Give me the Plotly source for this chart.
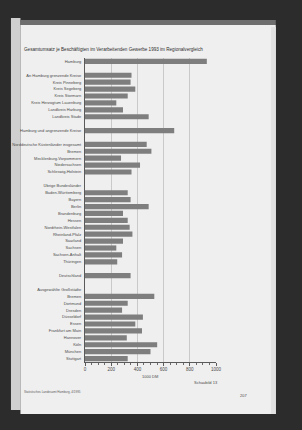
import plotly.graph_objects as go

title = "Gesamtumsatz je Beschäftigten im Verarbeitenden Gewerbe 1993 im Regionalvergleich"

labels = [
    "Hamburg", "",
    "An Hamburg grenzende Kreise", "Kreis Pinneberg", "Kreis Segeberg", "Kreis Stormarn",
    "Kreis Herzogtum Lauenburg", "Landkreis Harburg", "Landkreis Stade", "",
    "Hamburg und angrenzende Kreise", "",
    "Norddeutsche Küstenländer insgesamt", "Bremen", "Mecklenburg-Vorpommern",
    "Niedersachsen", "Schleswig-Holstein", "",
    "Übrige Bundesländer", "Baden-Württemberg", "Bayern", "Berlin", "Brandenburg",
    "Hessen", "Nordrhein-Westfalen", "Rheinland-Pfalz", "Saarland", "Sachsen",
    "Sachsen-Anhalt", "Thüringen", "",
    "Deutschland", "",
    "Ausgewählte Großstädte", "Bremen", "Dortmund", "Dresden", "Düsseldorf", "Essen",
    "Frankfurt am Main", "Hannover", "Köln", "München", "Stuttgart",
]

values = [
    930, None,
    355, 348, 384, 326, 239, 290, 486, None,
    681, None,
    471, 507, 275, 420, 355, None,
    None, 326, 348, 486, 290, 326, 341, 362, 290, 239, 283, 246, None,
    348, None,
    None, 529, 326, 283, 442, 384, 435, 319, 551, 500, 326,
]

x_ticks = [0, 200, 400, 600, 800, 1000]
x_title = "1000 DM"
figure_label = "Schaubild 13"
page_number = "207"
source_note = "Statistisches Landesamt Hamburg, 4/1995"

W, H = 302, 430
L, R, T, B = 78, 216, 58, 362  # plot area in pixels


def px(x):
    return (x - L) / (R - L)


def py(y):
    return (B - y) / (B - T)


pos = list(range(len(labels)))

fig = go.Figure(
    go.Bar(
        x=values,
        y=pos,
        orientation="h",
        marker=dict(color="#7e7e7e", line=dict(width=0)),
        width=0.75,
        hoverinfo="x",
    )
)

font = "Liberation Sans, Arial, sans-serif"

fig.update_layout(
    width=W,
    height=H,
    margin=dict(l=L, r=W - R, t=T, b=H - B, pad=0),
    paper_bgcolor="#2c2c2c",
    plot_bgcolor="rgba(0,0,0,0)",
    showlegend=False,
    font=dict(family=font, color="#4a4a4a", size=4),
    xaxis=dict(
        range=[0, 1000],
        tickvals=x_ticks,
        ticktext=[str(v) for v in x_ticks],
        showgrid=True,
        gridcolor="#c9c9c9",
        gridwidth=1,
        zeroline=False,
        showline=True,
        linecolor="#5a5a5a",
        linewidth=1,
        ticks="outside",
        ticklen=3,
        tickcolor="#5a5a5a",
        tickfont=dict(size=4.5, color="#4a4a4a"),
        minor=dict(dtick=50, ticks="outside", ticklen=1.5, tickcolor="#6a6a6a", showgrid=False),
        fixedrange=True,
    ),
    yaxis=dict(
        range=[len(labels) - 0.5, -0.5],
        tickvals=pos,
        ticktext=labels,
        showgrid=False,
        zeroline=False,
        showline=True,
        linecolor="#5a5a5a",
        linewidth=1,
        ticks="",
        ticklabelstandoff=2,
        tickfont=dict(size=4, color="#4a4a4a"),
        fixedrange=True,
    ),
    shapes=[
        # left neighbouring page strip
        dict(type="rect", xref="paper", yref="paper", layer="below",
             x0=px(0), x1=px(10), y0=py(410), y1=py(18),
             fillcolor="#cfcfcf", line=dict(width=0)),
        # page
        dict(type="rect", xref="paper", yref="paper", layer="below",
             x0=px(10), x1=px(279), y0=py(414), y1=py(25),
             fillcolor="#efefef", line=dict(width=0)),
        # page top shadow
        dict(type="rect", xref="paper", yref="paper", layer="below",
             x0=px(10), x1=px(279), y0=py(25), y1=py(20),
             fillcolor="#6e6e6e", line=dict(width=0)),
        # page right edge
        dict(type="rect", xref="paper", yref="paper", layer="below",
             x0=px(274), x1=px(279), y0=py(414), y1=py(27),
             fillcolor="#e2e2e2", line=dict(width=0)),
    ],
    annotations=[
        dict(text=title, xref="paper", yref="paper", x=px(12), y=py(50),
             xanchor="left", yanchor="middle", showarrow=False,
             font=dict(size=4.6, color="#2e2e2e")),
        dict(text=x_title, xref="paper", yref="paper", x=px(146), y=py(376),
             xanchor="center", yanchor="middle", showarrow=False,
             font=dict(size=4, color="#4a4a4a")),
        dict(text=figure_label, xref="paper", yref="paper", x=px(205), y=py(382),
             xanchor="center", yanchor="middle", showarrow=False,
             font=dict(size=4, color="#4a4a4a")),
        dict(text=page_number, xref="paper", yref="paper", x=px(245), y=py(395),
             xanchor="center", yanchor="middle", showarrow=False,
             font=dict(size=4, color="#4a4a4a")),
        dict(text=source_note, xref="paper", yref="paper", x=px(12), y=py(392),
             xanchor="left", yanchor="middle", showarrow=False,
             font=dict(size=3, color="#5a5a5a")),
    ],
)

fig.write_html("out.html")
